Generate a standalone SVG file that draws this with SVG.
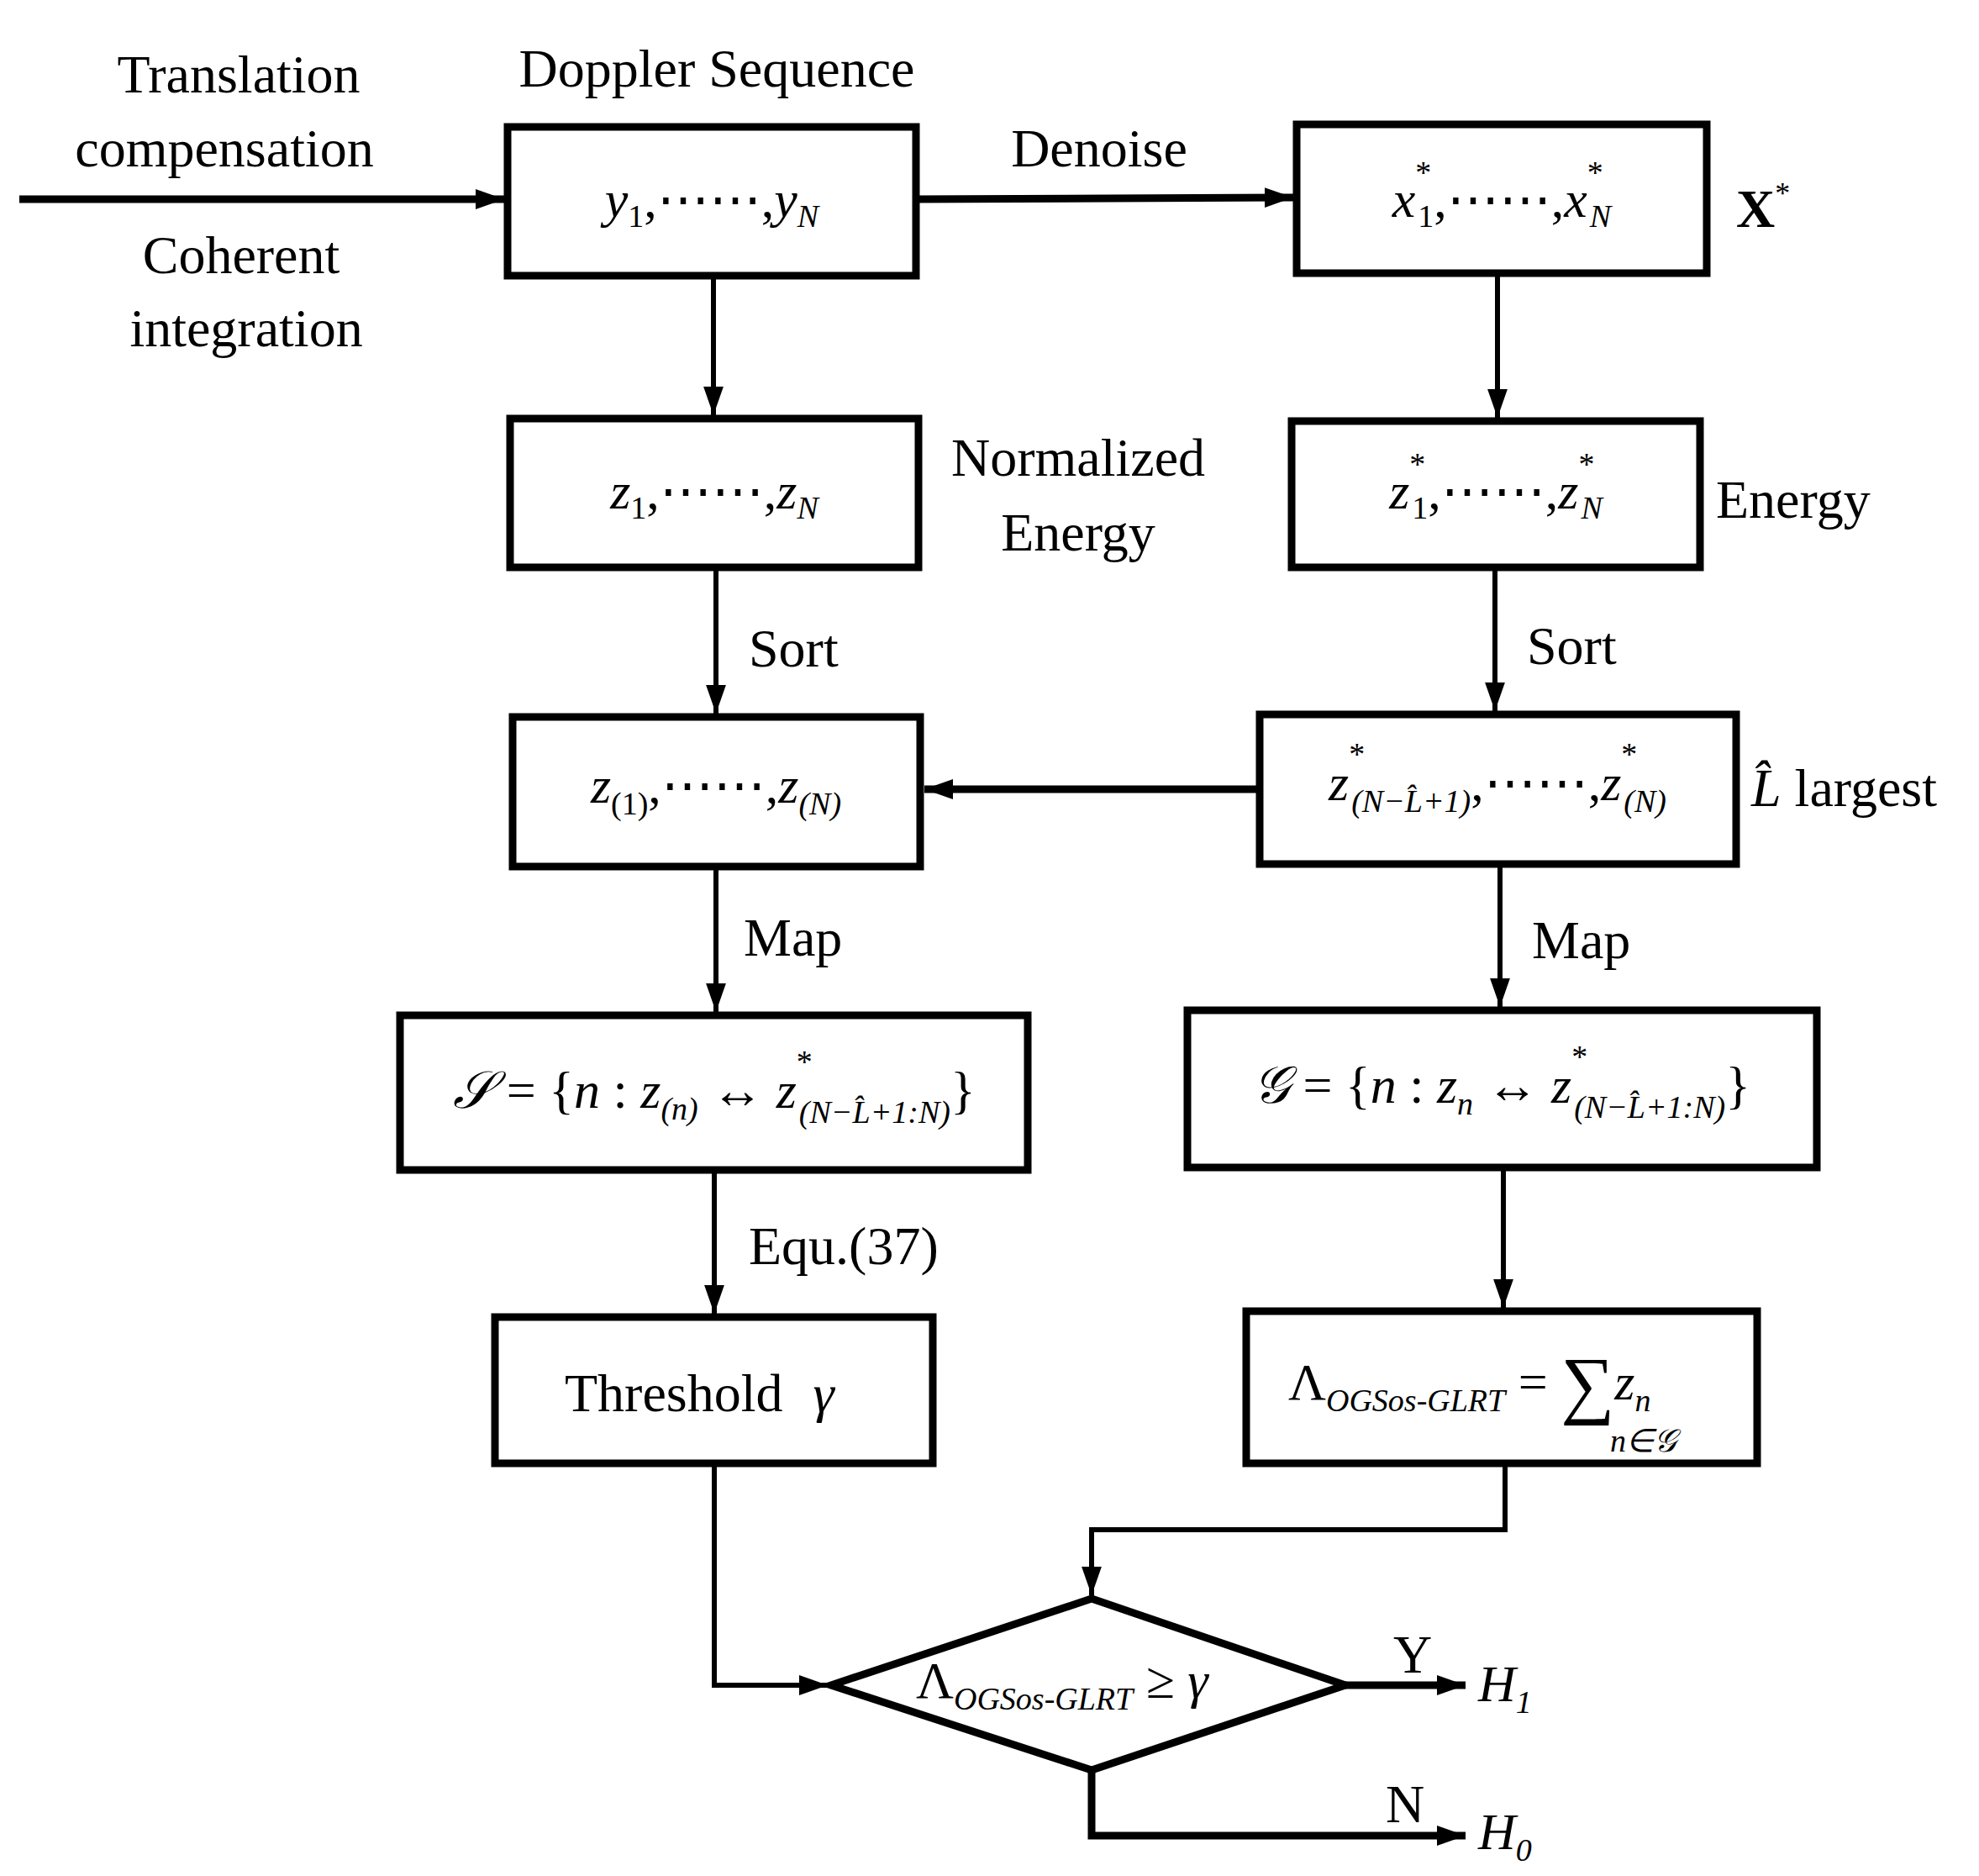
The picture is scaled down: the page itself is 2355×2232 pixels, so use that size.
<svg xmlns="http://www.w3.org/2000/svg" width="2355" height="2232" viewBox="0 0 2355 2232">
<style>
.b{fill:#fff;stroke:#000;stroke-width:9}
.c{fill:none;stroke:#000;stroke-width:6}
.t{font-family:"Liberation Serif",serif;font-size:64px;fill:#000}
.m{font-family:"Liberation Serif",serif;font-size:62px;font-style:italic;fill:#000}
.s{font-size:38px}
</style>
<defs>
<marker id="a" markerWidth="8" markerHeight="8" refX="7" refY="4" orient="auto" markerUnits="userSpaceOnUse" viewBox="0 0 8 8"><path d="M0,0L8,4L0,8z"/></marker>
<marker id="h" viewBox="0 0 10 10" refX="10" refY="5" markerWidth="34" markerHeight="34" markerUnits="userSpaceOnUse" orient="auto"><path d="M0,1.5L10,5L0,8.5z" fill="#000"/></marker>
</defs>
<g id="connectors">
<path class="c" style="stroke-width:9" d="M23,237H600" marker-end="url(#h)"/>
<path class="c" style="stroke-width:9" d="M1090,237L1539,235" marker-end="url(#h)"/>
<path class="c" d="M849,328V494" marker-end="url(#h)"/>
<path class="c" d="M1782,325V497" marker-end="url(#h)"/>
<path class="c" d="M852,675V849" marker-end="url(#h)"/>
<path class="c" d="M1779,675V846" marker-end="url(#h)"/>
<path class="c" style="stroke-width:9" d="M1499,939H1100" marker-end="url(#h)"/>
<path class="c" d="M852,1031V1204" marker-end="url(#h)"/>
<path class="c" d="M1785,1028V1198" marker-end="url(#h)"/>
<path class="c" d="M850,1392V1563" marker-end="url(#h)"/>
<path class="c" d="M1789,1389V1556" marker-end="url(#h)"/>
<path class="c" d="M1791,1741V1820H1299V1898" marker-end="url(#h)"/>
<path class="c" d="M850,1741V2005H985" marker-end="url(#h)"/>
<path class="c" style="stroke-width:9" d="M1601,2005H1744" marker-end="url(#h)"/>
<path class="c" style="stroke-width:9" d="M1299,2106V2184H1744" marker-end="url(#h)"/>
</g>
<g id="labels" class="t">
<text x="284" y="110" text-anchor="middle">Translation</text>
<text x="267" y="198" text-anchor="middle">compensation</text>
<text x="287" y="325" text-anchor="middle">Coherent</text>
<text x="293" y="412" text-anchor="middle">integration</text>
<text x="853" y="103" text-anchor="middle">Doppler Sequence</text>
<text x="1308" y="198" text-anchor="middle">Denoise</text>
<text x="2066" y="270" font-weight="bold">X<tspan dy="-28" font-size="36" font-weight="normal">*</tspan></text>
<text x="1283" y="566" text-anchor="middle">Normalized</text>
<text x="1283" y="655" text-anchor="middle">Energy</text>
<text x="2042" y="616">Energy</text>
<text x="891" y="793">Sort</text>
<text x="1817" y="790">Sort</text>
<text x="2084" y="959"><tspan font-style="italic">L̂</tspan> largest</text>
<text x="885" y="1137">Map</text>
<text x="1823" y="1140">Map</text>
<text x="891" y="1504">Equ.(37)</text>
<text x="1658" y="1990">Y</text>
<text x="1649" y="2168">N</text>
<text class="m" x="1759" y="2024">H<tspan class="s" dy="14">1</tspan></text>
<text class="m" x="1759" y="2200">H<tspan class="s" dy="14">0</tspan></text>
</g>
<g id="n1"><rect class="b" x="604" y="151" width="486" height="177"/><text class="m" x="847" y="258" text-anchor="middle">y<tspan class="s" dy="12" font-style="normal">1</tspan><tspan dy="-12" font-style="normal">,⋯⋯,</tspan>y<tspan class="s" dy="12">N</tspan></text></g>
<g id="n2"><rect class="b" x="1543" y="148" width="488" height="177"/><text class="m" x="1787" y="258" text-anchor="middle">x<tspan class="s" dy="-40" font-style="normal">*</tspan><tspan class="s" dx="-16" dy="52" font-style="normal">1</tspan><tspan dy="-12" font-style="normal">,⋯⋯,</tspan>x<tspan class="s" dy="-40" font-style="normal">*</tspan><tspan class="s" dx="-16" dy="52">N</tspan></text></g>
<g id="n3"><rect class="b" x="607" y="498" width="486" height="177"/><text class="m" x="850" y="605" text-anchor="middle">z<tspan class="s" dy="12" font-style="normal">1</tspan><tspan dy="-12" font-style="normal">,⋯⋯,</tspan>z<tspan class="s" dy="12">N</tspan></text></g>
<g id="n4"><rect class="b" x="1537" y="501" width="486" height="174"/><text class="m" x="1780" y="605" text-anchor="middle">z<tspan class="s" dy="-40" font-style="normal">*</tspan><tspan class="s" dx="-16" dy="52" font-style="normal">1</tspan><tspan dy="-12" font-style="normal">,⋯⋯,</tspan>z<tspan class="s" dy="-40" font-style="normal">*</tspan><tspan class="s" dx="-16" dy="52">N</tspan></text></g>
<g id="n5"><rect class="b" x="610" y="853" width="485" height="178"/><text class="m" x="852" y="955" text-anchor="middle">z<tspan class="s" dy="14" font-style="normal">(1)</tspan><tspan dy="-14" font-style="normal">,⋯⋯,</tspan>z<tspan class="s" dy="14">(N)</tspan></text></g>
<g id="n6"><rect class="b" x="1499" y="850" width="567" height="178"/><text class="m" x="1782" y="952" text-anchor="middle">z<tspan class="s" dy="-42" font-style="normal">*</tspan><tspan class="s" dx="-16" dy="56">(N−L̂+1)</tspan><tspan dy="-14" font-style="normal">,⋯⋯,</tspan>z<tspan class="s" dy="-42" font-style="normal">*</tspan><tspan class="s" dx="-16" dy="56">(N)</tspan></text></g>
<g id="n7"><rect class="b" x="476" y="1208" width="747" height="184"/><text class="m" x="850" y="1318" text-anchor="middle">𝒮 <tspan font-style="normal">= {</tspan>n <tspan font-style="normal">:</tspan> z<tspan class="s" dy="14">(n)</tspan><tspan dy="-14" font-style="normal"> ↔ </tspan>z<tspan class="s" dy="-42" font-style="normal">*</tspan><tspan class="s" dx="-16" dy="60">(N−L̂+1:N)</tspan><tspan dy="-18" font-style="normal">}</tspan></text></g>
<g id="n8"><rect class="b" x="1413" y="1202" width="749" height="187"/><text class="m" x="1787" y="1312" text-anchor="middle">𝒢 <tspan font-style="normal">= {</tspan>n <tspan font-style="normal">:</tspan> z<tspan class="s" dy="14">n</tspan><tspan dy="-14" font-style="normal"> ↔ </tspan>z<tspan class="s" dy="-42" font-style="normal">*</tspan><tspan class="s" dx="-16" dy="60">(N−L̂+1:N)</tspan><tspan dy="-18" font-style="normal">}</tspan></text></g>
<g id="n9"><rect class="b" x="589" y="1567" width="521" height="174"/><text class="t" x="672" y="1679">Threshold <tspan font-style="italic" dx="20">γ</tspan></text></g>
<g id="n10"><rect class="b" x="1483" y="1560" width="608" height="181"/><text class="m" x="1533" y="1665"><tspan font-style="normal">Λ</tspan><tspan class="s" dy="14">OGSos-GLRT</tspan><tspan dy="-14" font-style="normal"> = </tspan><tspan font-style="normal" font-size="90" dy="12">∑</tspan><tspan dy="-12">z</tspan><tspan class="s" dy="14">n</tspan></text><text class="m s" x="1916" y="1727">n∈𝒢</text></g>
<g id="n11"><polygon class="b" points="989,2005 1299,1902 1601,2005 1299,2106"/><text class="m" x="1090" y="2020"><tspan font-style="normal">Λ</tspan><tspan class="s" dy="14">OGSos-GLRT</tspan><tspan dy="-14" font-style="normal"> ≥ </tspan>γ</text></g>
</svg>
